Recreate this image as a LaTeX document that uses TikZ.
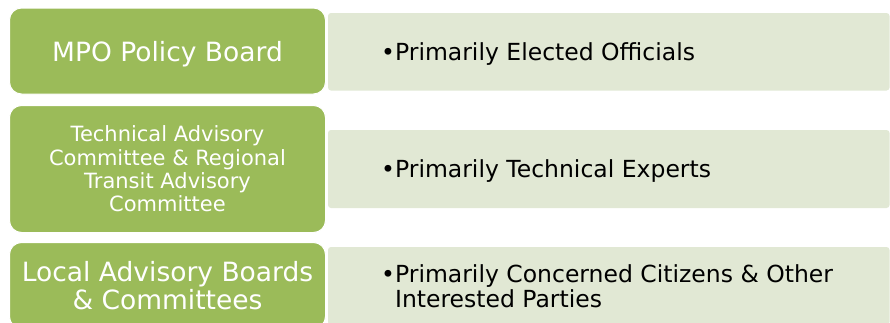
\documentclass[tikz,border=0pt]{standalone}
\usepackage{fontspec}
\setmainfont{DejaVu Sans}
\definecolor{boardgreen}{HTML}{9BBB59}
\definecolor{rowtint}{HTML}{E1E8D4}

\begin{document}
\begin{tikzpicture}[x=1pt,y=-1pt,
    group/.style={rectangle,rounded corners=12pt,fill=boardgreen,draw=white,line width=1pt,text=white,align=center,minimum width=316pt,inner sep=0pt},
    role/.style={rectangle,rounded corners=3pt,fill=rowtint,minimum width=561.5pt,inner sep=0pt},
    roletext/.style={anchor=west,align=left,inner sep=0pt,font=\fontsize{23.5}{25}\selectfont},
    big/.style={font=\fontsize{26.5}{28}\selectfont},
    small/.style={font=\fontsize{21}{23.3}\selectfont}]
    \path[use as bounding box,clip] (0,0) rectangle (890,322);
    \fill[white] (0,0) rectangle (890,322);
    % light rows behind the green boxes
    \node[role,minimum height=77.5pt] (l1) at (608.75,51.75) {};
    \node[role,minimum height=78pt] (l2) at (608.75,169) {};
    \node[role,minimum height=78pt] (l3) at (608.75,286) {};
    \node[roletext,text depth=0pt] (t1) at (381,51.75) {•Primarily Elected Officials};
    \node[roletext,text depth=0pt] (t2) at (381,169) {•Primarily Technical Experts};
    \node[roletext] (t3) at (381,286) {•Primarily Concerned Citizens \& Other\\\phantom{•}Interested Parties};
    % green boxes
    \node[group,big,text depth=0pt,minimum height=86pt] (g1) at (167.5,51) {MPO Policy Board};
    \node[group,small,minimum height=127pt] (g2) at (167.5,169) {Technical Advisory\\Committee \& Regional\\Transit Advisory\\Committee};
    \node[group,big,minimum height=86pt] (g3) at (167.5,285.5) {Local Advisory Boards\\\& Committees};
\end{tikzpicture}
\end{document}
